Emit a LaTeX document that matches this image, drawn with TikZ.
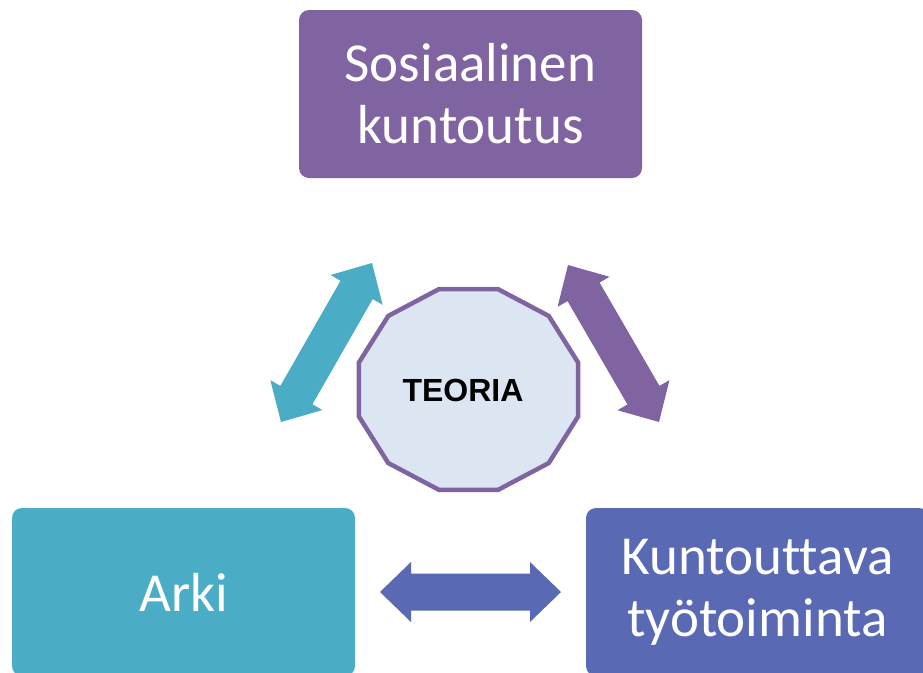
\documentclass[tikz,border=0pt]{standalone}
\usepackage{fontspec}
\usetikzlibrary{calc}
\newfontfamily\boxfont[Ligatures=NoCommon]{Carlito}
\newfontfamily\teofont{Liberation Sans}
\definecolor{cpurple}{HTML}{8064A2}
\definecolor{cteal}{HTML}{4BACC6}
\definecolor{cblue}{HTML}{5A69B4}
\definecolor{cfill}{HTML}{DCE6F2}
% double block arrow: #1 colour, #2 start coordinate, #3 end coordinate
\newcommand{\dblarrow}[3]{%
  \fill[#1] (#2)
    -- ($(#2)!31pt!(#3)!30pt!90:(#3)$)
    -- ($(#2)!31pt!(#3)!18.5pt!90:(#3)$)
    -- ($(#3)!31pt!(#2)!18.5pt!-90:(#2)$)
    -- ($(#3)!31pt!(#2)!30pt!-90:(#2)$)
    -- (#3)
    -- ($(#3)!31pt!(#2)!30pt!90:(#2)$)
    -- ($(#3)!31pt!(#2)!18.5pt!90:(#2)$)
    -- ($(#2)!31pt!(#3)!18.5pt!-90:(#3)$)
    -- ($(#2)!31pt!(#3)!30pt!-90:(#3)$)
    -- cycle;}
\tikzset{
  bigbox/.style={rounded corners=10pt, minimum width=343pt, minimum height=168pt,
    inner sep=0pt, align=center, text=white,
    font=\boxfont\fontsize{55}{62}\selectfont},
}
\begin{document}
\begin{tikzpicture}[x=1pt,y=-1pt]
\useasboundingbox (0,0) rectangle (923,672);
\clip (0,0) rectangle (923,672);
\fill[white] (0,0) rectangle (923,672);

% boxes
\node[bigbox, fill=cpurple] (sos) at (470.5,94) {Sosiaalinen\\kuntoutus};
\node[bigbox, fill=cteal] (arki) at (183.5,592) {Arki};
\node[bigbox, fill=cblue] (kt) at (757.5,592) {Kuntouttava\\työtoiminta};

% centre dodecagon
\coordinate (dc) at (468.5,389.5);
\begin{scope}[shift={(dc)}]
\draw[cpurple, line width=4.5pt, fill=cfill, line join=miter]
  (15:113.5 and 104) \foreach \a in {45,75,...,345} { -- (\a:113.5 and 104) } -- cycle;
\end{scope}
\node[font=\teofont\bfseries\fontsize{32}{38}\selectfont, inner sep=0pt] (teo) at (463,390) {TEORIA};

% arrows
\coordinate (t1) at (281,422);
\coordinate (t2) at (372,263);
\coordinate (p1) at (568,265);
\coordinate (p2) at (659,422);
\coordinate (b1) at (380,592);
\coordinate (b2) at (561,592);
\dblarrow{cteal}{t1}{t2}
\dblarrow{cpurple}{p1}{p2}
\dblarrow{cblue}{b1}{b2}
\end{tikzpicture}
\end{document}
